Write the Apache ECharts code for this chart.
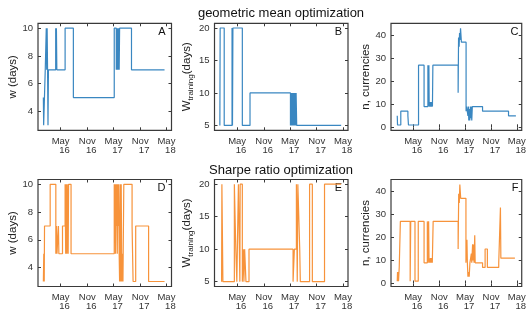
<!DOCTYPE html>
<html>
<head>
<meta charset="utf-8">
<script src="https://cdn.jsdelivr.net/npm/echarts@6/dist/echarts.min.js"></script>
<style>
  html, body { margin: 0; padding: 0; background: #fff; }
  #chart { width: 529px; height: 314px; }
</style>
</head>
<body>
<div id="chart"></div>
<script>
// date axis ticks
var tickDates = ['2016-05-01', '2016-11-01', '2017-05-01', '2017-11-01', '2018-05-01'];
var tickLabels = ['May\n   16', 'Nov\n   16', 'May\n   17', 'Nov\n   17', 'May\n   18'];
var wTicks = [4, 6, 8, 10];
var wtTicks = [5, 10, 15, 20];
var nTicks = [0, 10, 20, 30, 40];

// geometric mean optimization
var geoW = [
  ['2016-01-03', 5], ['2016-01-05', 3], ['2016-01-16', 7], ['2016-01-23', 10], ['2016-01-26', 7],
  ['2016-01-29', 10], ['2016-02-01', 7], ['2016-02-04', 3], ['2016-02-07', 7], ['2016-03-28', 10],
  ['2016-03-31', 7], ['2016-04-02', 10], ['2016-04-05', 7], ['2016-06-01', 10], ['2016-07-28', 5],
  ['2017-05-06', 10], ['2017-05-20', 7], ['2017-05-22', 10], ['2017-05-24', 7], ['2017-05-26', 10],
  ['2017-05-28', 7], ['2017-05-30', 10], ['2017-06-01', 7], ['2017-06-03', 10], ['2017-06-05', 7],
  ['2017-06-07', 10], ['2017-06-09', 7], ['2017-06-12', 10], ['2017-09-02', 7], ['2018-04-18', 7]
];
var geoWt = [
  ['2016-01-03', 5], ['2016-01-05', 20], ['2016-02-02', 5], ['2016-03-27', 20], ['2016-03-30', 5],
  ['2016-04-02', 20], ['2016-06-06', 5], ['2016-07-29', 10], ['2017-05-04', 5], ['2017-05-07', 10],
  ['2017-05-10', 5], ['2017-05-13', 10], ['2017-05-16', 5], ['2017-05-19', 10], ['2017-05-22', 5],
  ['2017-05-25', 10], ['2017-05-28', 5], ['2017-05-31', 10], ['2017-06-03', 5], ['2017-06-06', 10],
  ['2017-06-09', 5], ['2017-06-12', 10], ['2017-06-16', 5], ['2018-04-19', 5]
];
var geoN = [
  ['2016-01-10', 5], ['2016-01-12', 1], ['2016-02-04', 7], ['2016-03-25', 5], ['2016-03-29', 1],
  ['2016-06-08', 27], ['2016-07-17', 9], ['2016-08-13', 27], ['2016-08-15', 9], ['2016-08-20', 27],
  ['2016-08-22', 9], ['2016-08-25', 11], ['2016-08-28', 9], ['2016-08-31', 11], ['2016-09-03', 9],
  ['2016-09-06', 11], ['2016-09-09', 9], ['2016-09-12', 11], ['2016-09-14', 9], ['2016-09-17', 27],
  ['2017-03-14', 15], ['2017-03-17', 39], ['2017-03-21', 35], ['2017-03-24', 41], ['2017-03-27', 38],
  ['2017-03-31', 43], ['2017-04-06', 37], ['2017-05-09', 7], ['2017-05-13', 9], ['2017-05-22', 5],
  ['2017-05-25', 9], ['2017-05-28', 3], ['2017-06-01', 8], ['2017-06-04', 3], ['2017-06-08', 9],
  ['2017-06-11', 4], ['2017-06-15', 9], ['2017-06-18', 3], ['2017-06-22', 9], ['2017-09-02', 7],
  ['2018-03-04', 5], ['2018-04-25', 5]
];

// Sharpe ratio optimization
var sharpeW = [
  ['2016-01-03', 3], ['2016-01-06', 5], ['2016-01-09', 3], ['2016-01-11', 7], ['2016-02-19', 10],
  ['2016-03-29', 5], ['2016-04-03', 7], ['2016-04-06', 5], ['2016-04-16', 7], ['2016-04-19', 5],
  ['2016-05-14', 7], ['2016-06-01', 10], ['2016-06-05', 5], ['2016-06-08', 10], ['2016-06-13', 5],
  ['2016-06-16', 10], ['2016-06-22', 5], ['2016-06-25', 10], ['2016-07-12', 5], ['2017-05-06', 10],
  ['2017-05-09', 7], ['2017-05-12', 10], ['2017-05-15', 5], ['2017-05-18', 10], ['2017-05-21', 7],
  ['2017-05-24', 10], ['2017-05-27', 5], ['2017-05-30', 10], ['2017-06-02', 7], ['2017-06-05', 10],
  ['2017-06-09', 5], ['2017-06-12', 3], ['2017-06-16', 10], ['2017-06-19', 3], ['2017-06-23', 10],
  ['2017-06-27', 3], ['2017-07-01', 5], ['2017-07-05', 3], ['2017-07-11', 10], ['2017-09-06', 7],
  ['2017-09-13', 3], ['2017-10-01', 7], ['2017-12-29', 3], ['2018-04-18', 3]
];
var sharpeWt = [
  ['2016-01-15', 5], ['2016-01-17', 20], ['2016-01-24', 5], ['2016-04-12', 20], ['2016-04-22', 10],
  ['2016-04-29', 5], ['2016-05-10', 20], ['2016-05-20', 5], ['2016-05-22', 20], ['2016-06-06', 5],
  ['2016-06-13', 10], ['2016-06-17', 5], ['2016-06-22', 10], ['2016-07-01', 5], ['2016-07-22', 10],
  ['2017-05-22', 5], ['2017-05-31', 10], ['2017-06-14', 20], ['2017-06-20', 5], ['2017-06-24', 20],
  ['2017-07-07', 10], ['2017-07-11', 5], ['2017-09-13', 20], ['2017-10-02', 5], ['2017-12-25', 20],
  ['2018-04-19', 20]
];
var sharpeN = [
  ['2016-01-10', 1], ['2016-01-12', 5], ['2016-01-14', 1], ['2016-01-17', 5], ['2016-01-19', 1],
  ['2016-01-24', 7], ['2016-02-01', 27], ['2016-04-10', 1], ['2016-04-14', 27], ['2016-05-14', 1],
  ['2016-06-06', 27], ['2016-07-17', 9], ['2016-08-09', 27], ['2016-08-12', 9], ['2016-08-18', 27],
  ['2016-08-21', 9], ['2016-08-25', 11], ['2016-08-28', 9], ['2016-09-01', 11], ['2016-09-05', 9],
  ['2016-09-09', 11], ['2016-09-13', 9], ['2016-09-19', 27], ['2017-03-14', 15], ['2017-03-18', 39],
  ['2017-03-22', 35], ['2017-03-26', 43], ['2017-04-01', 37], ['2017-05-08', 9], ['2017-05-15', 19],
  ['2017-05-18', 9], ['2017-05-22', 3], ['2017-05-28', 5], ['2017-05-31', 3], ['2017-06-05', 9],
  ['2017-06-15', 13], ['2017-06-18', 9], ['2017-06-24', 17], ['2017-06-27', 10], ['2017-07-01', 17],
  ['2017-07-04', 9], ['2017-07-09', 21], ['2017-07-12', 9], ['2017-09-02', 7], ['2017-09-20', 15],
  ['2017-10-06', 7], ['2017-12-25', 9], ['2018-01-06', 33], ['2018-01-09', 11], ['2018-04-18', 11]
];

function ts(s) {
  var p = s.split('-');
  return new Date(+p[0], +p[1] - 1, +p[2]).getTime();
}
function toPts(arr) {
  return arr.map(function (d) { return [ts(d[0]), d[1]]; });
}

var blue = '#3a87c1', orange = '#f7933b';
var font = 'Liberation Sans, Arial, sans-serif';
var xMin = ts('2015-11-27'), xMax = ts('2018-06-05');
var tickTs = tickDates.map(ts);

var lefts = [38, 214.5, 391];
var tops = [23.3, 179.5];
var gw = 133.5, gh = 107;

var panels = [
  {data: geoW, ticks: wTicks, min: 2.64, max: 10.35, name: 'w (days)', gap: 19, color: blue, letter: 'A'},
  {data: geoWt, ticks: wtTicks, min: 4.25, max: 20.72, name: '{a|W}{b|training}{a|(days)}', gap: 20, color: blue, letter: 'B'},
  {data: geoN, ticks: nTicks, min: -1.3, max: 45.2, name: 'n, currencies', gap: 18, color: blue, letter: 'C'},
  {data: sharpeW, ticks: wTicks, min: 2.64, max: 10.35, name: 'w (days)', gap: 19, color: orange, letter: 'D'},
  {data: sharpeWt, ticks: wtTicks, min: 4.25, max: 20.72, name: '{a|W}{b|training}{a|(days)}', gap: 20, color: orange, letter: 'E'},
  {data: sharpeN, ticks: nTicks, min: -1.3, max: 45.2, name: 'n, currencies', gap: 18, color: orange, letter: 'F'}
];

function dateLabel(v) {
  for (var k = 0; k < tickTs.length; k++) {
    if (Math.abs(tickTs[k] - v) < 86400000) return tickLabels[k];
  }
  return '';
}

var grid = [], xAxis = [], yAxis = [], series = [];
var graphic = [
  {type: 'text', x: 281, y: 13, style: {text: 'geometric mean optimization', font: '13px ' + font, fill: '#111', textAlign: 'center', textVerticalAlign: 'middle'}},
  {type: 'text', x: 281, y: 170, style: {text: 'Sharpe ratio optimization', font: '13px ' + font, fill: '#111', textAlign: 'center', textVerticalAlign: 'middle'}}
];

panels.forEach(function (p, i) {
  var left = lefts[i % 3], top = tops[Math.floor(i / 3)];
  grid.push({left: left, top: top, width: gw, height: gh, show: true, borderColor: '#3a3a3a', borderWidth: 1.2, backgroundColor: 'transparent'});
  var tick = {inside: true, length: 3, lineStyle: {color: '#3a3a3a'}};
  xAxis.push({
    type: 'value', gridIndex: i, min: xMin, max: xMax, position: 'bottom',
    axisLine: {show: false}, splitLine: {show: false},
    axisTick: Object.assign({customValues: tickTs}, tick),
    axisLabel: {customValues: tickTs, margin: 6, fontSize: 9.5, lineHeight: 9.5, color: '#333', fontFamily: font, formatter: dateLabel}
  });
  xAxis.push({
    type: 'value', gridIndex: i, min: xMin, max: xMax, position: 'top',
    axisLine: {show: false}, splitLine: {show: false},
    axisTick: Object.assign({customValues: tickTs}, tick),
    axisLabel: {show: false}
  });
  yAxis.push({
    type: 'value', gridIndex: i, min: p.min, max: p.max, position: 'left',
    axisLine: {show: false}, splitLine: {show: false},
    axisTick: Object.assign({customValues: p.ticks}, tick),
    axisLabel: {customValues: p.ticks, margin: 5, fontSize: 9.5, color: '#333', fontFamily: font},
    name: p.name, nameLocation: 'middle', nameGap: p.gap,
    nameTextStyle: {
      fontSize: 11.5, color: '#222', fontFamily: font,
      rich: {
        a: {fontSize: 11.5, lineHeight: 16, fontFamily: font, color: '#222'},
        b: {fontSize: 8, lineHeight: 8, verticalAlign: 'bottom', fontFamily: font, color: '#222'}
      }
    }
  });
  yAxis.push({
    type: 'value', gridIndex: i, min: p.min, max: p.max, position: 'right',
    axisLine: {show: false}, splitLine: {show: false},
    axisTick: Object.assign({customValues: p.ticks}, tick),
    axisLabel: {show: false}
  });
  series.push({
    type: 'line', step: 'end', xAxisIndex: i * 2, yAxisIndex: i * 2,
    data: toPts(p.data), showSymbol: false, silent: true, animation: false,
    lineStyle: {color: p.color, width: 1.2}
  });
  graphic.push({
    type: 'text', x: left + gw - 6, y: top + 3,
    style: {text: p.letter, font: '11px ' + font, fill: '#111', textAlign: 'right', textVerticalAlign: 'top'}
  });
});

var chart = echarts.init(document.getElementById('chart'));
chart.setOption({
  animation: false,
  backgroundColor: '#fff',
  grid: grid,
  xAxis: xAxis,
  yAxis: yAxis,
  series: series,
  graphic: graphic
});
</script>
</body>
</html>
